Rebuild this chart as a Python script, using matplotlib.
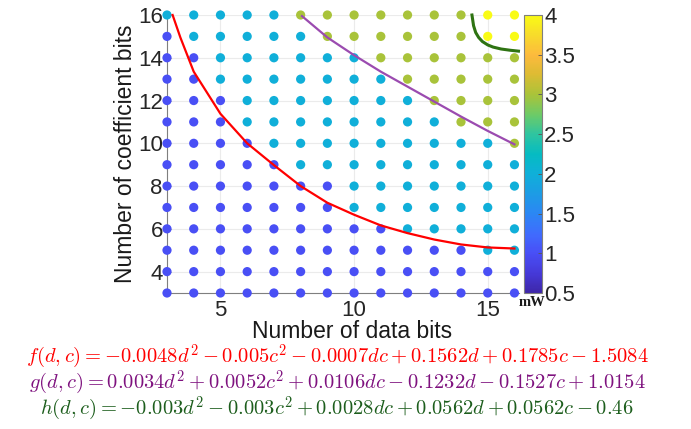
import numpy as np
import matplotlib
matplotlib.use("Agg")
import matplotlib.pyplot as plt
from matplotlib.colors import LinearSegmentedColormap

plt.rcParams['font.family'] = ['Liberation Sans', 'DejaVu Sans']
plt.rcParams['mathtext.fontset'] = 'cm'

# ---- data ----
data_bits = list(range(3, 17))
coef_bits = list(range(3, 17))
# power (mW), rows = coefficient bits 3..16, columns = data bits 3..16
power_c3 = [1]*14
power_c4 = [1]*14
power_c5 = [1]*12 + [2]*2
power_c6 = [1]*9 + [2]*5
power_c7 = [1]*7 + [2]*7
power_c8 = [1]*7 + [2]*7
power_c9 = [1]*5 + [2]*9
power_c10 = [1]*4 + [2]*9 + [3]*1
power_c11 = [1]*3 + [2]*8 + [3]*3
power_c12 = [1]*3 + [2]*7 + [3]*4
power_c13 = [1]*2 + [2]*7 + [3]*5
power_c14 = [1]*2 + [2]*6 + [3]*6
power_c15 = [1]*1 + [2]*5 + [3]*6 + [4]*2
power_c16 = [2]*5 + [3]*7 + [4]*2
power_rows = [power_c3, power_c4, power_c5, power_c6, power_c7, power_c8, power_c9,
              power_c10, power_c11, power_c12, power_c13, power_c14, power_c15, power_c16]

# boundary curves
f_d = [3.21, 3.5, 4, 5, 6, 7, 8, 9, 10, 11, 12, 13, 14, 15, 16]
f_c = [16, 14.95, 13.35, 11.38, 10.0, 8.98, 8.0, 7.22, 6.66, 6.16, 5.8, 5.5, 5.27, 5.13, 5.08]
g_d = [8.05, 9, 10, 11, 12, 13, 14, 15, 16]
g_c = [15.95, 14.95, 14.12, 13.35, 12.65, 11.95, 11.25, 10.58, 9.95]
h_d = [14.41, 14.47, 14.55, 14.66, 14.8, 15.0, 15.2, 15.5, 15.85, 16.15]
h_c = [16, 15.5, 15.18, 14.95, 14.76, 14.6, 14.5, 14.41, 14.35, 14.31]

eq_f = r"$f(d,c) = -0.0048d^2 - 0.005c^2 - 0.0007dc + 0.1562d + 0.1785c - 1.5084$"
eq_g = r"$g(d,c) = 0.0034d^2 + 0.0052c^2 + 0.0106dc - 0.1232d - 0.1527c + 1.0154$"
eq_h = r"$h(d,c) = -0.003d^2 - 0.003c^2 + 0.0028dc + 0.0562d + 0.0562c - 0.46$"

cbar_ticks = [0.5, 1, 1.5, 2, 2.5, 3, 3.5, 4]
cbar_labels = ['0.5', '1', '1.5', '2', '2.5', '3', '3.5', '4']

# parula-like colormap
anchors = [
    (0.00, (0.242, 0.150, 0.660)),
    (0.07, (0.272, 0.225, 0.850)),
    (0.143, (0.285, 0.310, 0.965)),
    (0.21, (0.250, 0.420, 0.995)),
    (0.286, (0.170, 0.530, 0.955)),
    (0.36, (0.110, 0.615, 0.895)),
    (0.43, (0.060, 0.690, 0.850)),
    (0.50, (0.020, 0.735, 0.760)),
    (0.57, (0.180, 0.770, 0.630)),
    (0.64, (0.420, 0.795, 0.410)),
    (0.714, (0.665, 0.765, 0.225)),
    (0.79, (0.870, 0.735, 0.200)),
    (0.857, (0.990, 0.730, 0.240)),
    (0.93, (0.970, 0.860, 0.170)),
    (1.00, (0.977, 0.984, 0.081)),
]
parula = LinearSegmentedColormap.from_list('parula_like', anchors)

fig = plt.figure(figsize=(6.91, 4.29), dpi=100)
ax = fig.add_axes([167/691, 1-293/429, (519-167)/691, (293-15)/429])

D, C = np.meshgrid(data_bits, coef_bits)
P = np.array(power_rows, dtype=float)
sc = ax.scatter(D.ravel(), C.ravel(), c=P.ravel(), cmap=parula, vmin=0.5, vmax=4,
                s=44, linewidths=0, zorder=3, clip_on=False)

ax.plot(f_d, f_c, color='#ff0000', lw=1.6, zorder=4, clip_on=False)
ax.plot(g_d, g_c, color='#9b4bb0', lw=1.6, zorder=4, clip_on=False)
ax.plot(h_d, h_c, color='#2e7312', lw=2.2, zorder=4, clip_on=False)

ax.set_xlim(3, 16.17)
ax.set_ylim(3, 16)
ax.set_xticks([5, 10, 15])
ax.set_yticks([4, 6, 8, 10, 12, 14, 16])
ax.grid(True, color='#ebebeb', lw=0.8, zorder=0)
ax.set_axisbelow(True)
for s in ['top', 'right']:
    ax.spines[s].set_visible(False)
for s in ['left', 'bottom']:
    ax.spines[s].set_color('#7f7f7f')
    ax.spines[s].set_linewidth(0.8)
ax.tick_params(direction='in', length=3, width=0.6, color='#7f7f7f',
               labelsize=16, labelcolor='#262626')
ax.tick_params(axis='y', pad=3)
ax.tick_params(axis='x', pad=5)
ax.set_xlabel('Number of data bits', fontsize=16.5, color='#1a1a1a')
ax.xaxis.set_label_coords((352-167)/(519-167), -(331.5-293)/(293-15))
ax.xaxis.label.set_va('center')
ax.set_ylabel('Number of coefficient bits', fontsize=16.5, color='#1a1a1a')
ax.yaxis.set_label_coords(-(167-125)/(519-167), (293-154)/(293-15))
ax.yaxis.label.set_va('center')

cax = fig.add_axes([524/691, 1-293/429, 18/691, (293-15)/429])
cb = fig.colorbar(sc, cax=cax, ticks=cbar_ticks)
cb.ax.set_yticklabels(cbar_labels)
cb.outline.set_edgecolor('#7f7f7f')
cb.outline.set_linewidth(0.8)
cb.ax.tick_params(direction='in', length=3, width=0.6, color='#555555',
                  labelsize=16, labelcolor='#262626', pad=1.5)
fig.text(532/691, 1-302/429, 'mW', fontsize=10.5, fontweight='bold',
         family='Liberation Serif', ha='center', va='center', color='#1a1a1a')

fig.text(337/691, 1-357/429, eq_f, fontsize=14.8, color='#ff0000', ha='center', va='center')
fig.text(337/691, 1-383/429, eq_g, fontsize=14.8, color='#7f127f', ha='center', va='center')
fig.text(337/691, 1-409/429, eq_h, fontsize=14.8, color='#1d5e1d', ha='center', va='center')

fig.savefig('out.png', dpi=100)
